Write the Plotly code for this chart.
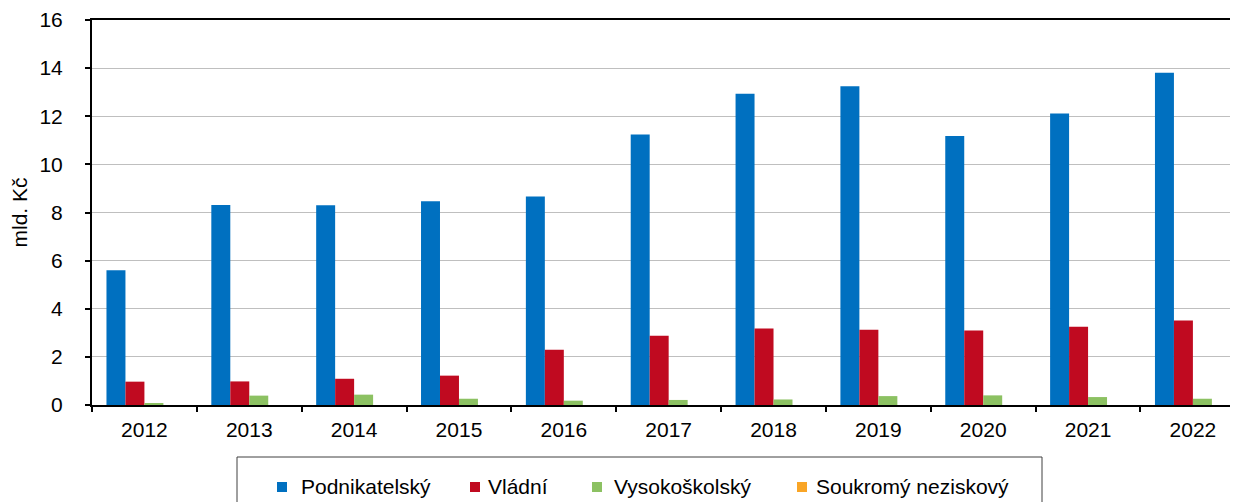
import plotly.graph_objects as go

years = ["2012", "2013", "2014", "2015", "2016", "2017", "2018", "2019", "2020", "2021", "2022"]
podnikatelsky = [5.60, 8.31, 8.30, 8.47, 8.66, 11.24, 12.93, 13.25, 11.18, 12.11, 13.81]
vladni = [0.97, 0.98, 1.09, 1.22, 2.30, 2.88, 3.18, 3.13, 3.10, 3.25, 3.51]
vysokoskolsky = [0.08, 0.39, 0.43, 0.26, 0.18, 0.21, 0.23, 0.37, 0.40, 0.33, 0.26]
soukromy = [0.0, 0.0, 0.0, 0.0, 0.0, 0.0, 0.0, 0.0, 0.0, 0.0, 0.0]

series_names = ["Podnikatelský", "Vládní", "Vysokoškolský", "Soukromý neziskový"]
series_values = [podnikatelsky, vladni, vysokoskolsky, soukromy]
colors = ["#0070C0", "#C00A20", "#8CC162", "#F9A526"]

# the page body has an 8px margin, so the figure is sized to end at the window edge
OFF = 8
W, H = 1238 - OFF, 502 - OFF
L, R, T, B = 92 - OFF, 0, 20 - OFF, 97
FONT = "Liberation Sans, Arial, sans-serif"
FS = 21

fig = go.Figure()
for name, vals, col in zip(series_names, series_values, colors):
    fig.add_trace(go.Bar(x=years, y=vals, name=name, marker=dict(color=col, line=dict(width=0)),
                         showlegend=False))

# custom legend (window pixel -> paper helpers)
pw, ph = W - L - R, H - T - B
def px(x):
    return (x - OFF - L) / pw
def py(y):
    return (H - B - (y - OFF)) / ph

shapes = [dict(type="rect", xref="paper", yref="paper", x0=px(237), x1=px(1042), y0=py(457), y1=py(520),
               line=dict(color="#404040", width=1), fillcolor="rgba(0,0,0,0)")]
annotations = []
leg_x = [277, 470, 592, 797]
leg_gap = [22, 16, 20, 17]
for x0, g, name, col in zip(leg_x, leg_gap, series_names, colors):
    shapes.append(dict(type="rect", xref="paper", yref="paper", x0=px(x0), x1=px(x0 + 10),
                       y0=py(492), y1=py(482), line=dict(width=0), fillcolor=col))
    annotations.append(dict(text=name, xref="paper", yref="paper", x=px(x0 + g), y=py(486.5),
                            xanchor="left", yanchor="middle", showarrow=False,
                            font=dict(family=FONT, size=FS, color="#000000")))

fig.update_layout(
    width=W, height=H,
    margin=dict(l=L, r=R, t=T, b=B),
    paper_bgcolor="white", plot_bgcolor="white",
    barmode="group", bargap=0.276, bargroupgap=0,
    font=dict(family=FONT, size=FS, color="#000000"),
    shapes=shapes, annotations=annotations,
    xaxis=dict(type="category", range=[-0.5, 10.43], showline=True, linecolor="black", linewidth=2,
               mirror=True, ticks="outside", tickson="boundaries", ticklen=5, tickwidth=2,
               tickcolor="black", showgrid=False, ticklabelstandoff=5,
               tickfont=dict(family=FONT, size=FS, color="#000000")),
    yaxis=dict(range=[0, 16], dtick=2, showline=True, linecolor="black", linewidth=2,
               ticks="outside", ticklen=5, tickwidth=2, tickcolor="black",
               showgrid=True, gridcolor="#BFBFBF", gridwidth=1, zeroline=False,
               ticklabelstandoff=18,
               tickfont=dict(family=FONT, size=FS, color="#000000")),
)
fig.update_yaxes(title=dict(text="mld. Kč", standoff=12, font=dict(family=FONT, size=FS, color="#000000")))

fig.write_html("out.html")
